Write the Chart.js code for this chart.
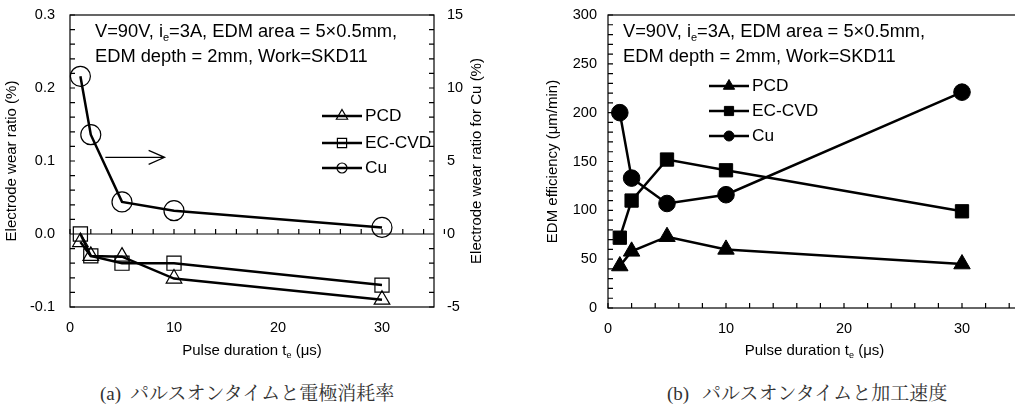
<!DOCTYPE html>
<html>
<head>
<meta charset="utf-8">
<script src="https://cdn.jsdelivr.net/npm/chart.js@4.4.0/dist/chart.umd.min.js"></script>
<style>
body { margin: 0; width: 1015px; height: 411px; overflow: hidden; background: #fff; position: relative; }
#boxA { position: absolute; left: 0; top: 0; }
#boxB { position: absolute; left: 505px; top: 0; }
.cap { position: absolute; top: 383px; font-size: 19px; line-height: 22px; white-space: nowrap;
       font-family: "Liberation Serif", "Noto Serif CJK JP", "Noto Sans CJK JP", serif; color: #333; }
</style>
</head>
<body>
<canvas id="boxA" width="500" height="375"></canvas>
<canvas id="boxB" width="520" height="375"></canvas>
<div class="cap" style="left:100px">(a)</div>
<div class="cap" style="left:130px">パルスオンタイムと電極消耗率</div>
<div class="cap" style="left:667px">(b)</div>
<div class="cap" style="left:702px">パルスオンタイムと加工速度</div>
<script>
// values
var pulse = [1, 2, 5, 10, 30];
var wearPCD = [-0.011, -0.03, -0.031, -0.061, -0.09];
var wearECCVD = [0.0, -0.03, -0.04, -0.04, -0.07];
var wearCu = [10.8, 6.8, 2.2, 1.6, 0.45];
var ratePCD = [43, 58, 73, 60, 45];
var rateECCVD = [72, 110, 152, 141, 99];
var rateCu = [200, 133, 107, 116, 221];
var seriesNames = ['PCD', 'EC-CVD', 'Cu'];
var seriesStyles = ['triangle', 'rect', 'circle'];
var legendRadius = [6.5, 6.5, 5];

var noteLine1 = [['V=90V, i'], ['e', 1], ['=3A, EDM area = 5×0.5mm,']];
var noteLine2 = [['EDM depth = 2mm, Work=SKD11']];
var xTitle = [['Pulse duration t'], ['e', 1], [' (μs)']];
var yTitleA = 'Electrode wear ratio (%)';
var y2TitleA = 'Electrode wear ratio for Cu (%)';
var yTitleB = 'EDM efficiency (μm/min)';

Chart.defaults.font.family = '"Liberation Sans", Arial, sans-serif';
Chart.defaults.color = '#000';

function pts(xs, ys) {
  return xs.map(function (x, i) { return {x: x, y: ys[i]}; });
}

function font(size) { return size + 'px "Liberation Sans", Arial'; }

// text with subscripts, parts = [[str, isSub]]
function drawParts(ctx, parts, x, y, size, align) {
  var w = 0;
  parts.forEach(function (p) {
    ctx.font = font(p[1] ? Math.round(size * 0.62) : size);
    p.w = ctx.measureText(p[0]).width;
    w += p.w;
  });
  var cx = align === 'center' ? x - w / 2 : x;
  ctx.textBaseline = 'middle';
  ctx.textAlign = 'left';
  parts.forEach(function (p) {
    ctx.font = font(p[1] ? Math.round(size * 0.62) : size);
    ctx.fillText(p[0], cx, p[1] ? y + size * 0.3 : y);
    cx += p.w;
  });
}

function vText(ctx, str, x, y, size) {
  ctx.save();
  ctx.translate(x, y);
  ctx.rotate(-Math.PI / 2);
  ctx.font = font(size);
  ctx.textAlign = 'center';
  ctx.textBaseline = 'middle';
  ctx.fillText(str, 0, 0);
  ctx.restore();
}

function tickRun(scale, step, fn) {
  var n = Math.round((scale.max - scale.min) / step);
  for (var i = 0; i <= n; i++) fn(scale.getPixelForValue(scale.min + i * step));
}

function tickLabels(ctx, scale, fn) {
  scale.ticks.forEach(function (t, i) {
    var lab = scale.options.ticks.callback.call(scale, t.value, i, scale.ticks);
    if (lab !== '') fn(String(lab), scale.getPixelForValue(t.value));
  });
}

// frame, inward ticks, tick labels, titles, note, legend
var decor = {
  id: 'decor',
  afterDraw: function (chart, args, o) {
    var ctx = chart.ctx, a = chart.chartArea, sx = chart.scales.x, sy = chart.scales.y, sy2 = chart.scales.y2;
    ctx.save();
    ctx.fillStyle = '#000';
    ctx.strokeStyle = '#000';
    ctx.lineWidth = 1.2;
    ctx.strokeRect(a.left, a.top, a.right - a.left, a.bottom - a.top);

    var xBase = o.xAt != null ? sy.getPixelForValue(o.xAt) : a.bottom;
    ctx.beginPath();
    if (o.xAt != null) { ctx.moveTo(a.left, xBase); ctx.lineTo(a.right, xBase); }
    tickRun(sx, o.xStep, function (p) { ctx.moveTo(p, xBase); ctx.lineTo(p, xBase - 5); });
    tickRun(sy, o.yStep, function (p) { ctx.moveTo(a.left, p); ctx.lineTo(a.left + 5, p); });
    if (sy2) tickRun(sy2, o.y2Step, function (p) { ctx.moveTo(a.right, p); ctx.lineTo(a.right - 5, p); });
    ctx.stroke();

    // tick labels
    ctx.font = font(14.5);
    ctx.textBaseline = 'middle';
    ctx.textAlign = 'center';
    tickLabels(ctx, sx, function (s, p) { ctx.fillText(s, p, a.bottom + 21); });
    ctx.textAlign = 'right';
    tickLabels(ctx, sy, function (s, p) { ctx.fillText(s, a.left - o.yGap, p); });
    if (sy2) {
      ctx.textAlign = 'left';
      tickLabels(ctx, sy2, function (s, p) { ctx.fillText(s, a.right + 13, p); });
    }

    // axis titles
    drawParts(ctx, xTitle, (a.left + a.right) / 2, 351, 15, 'center');
    vText(ctx, o.yTitle, o.yTitleX, (a.top + a.bottom) / 2, 15);
    if (o.y2Title) vText(ctx, o.y2Title, o.y2TitleX, (a.top + a.bottom) / 2, 15);

    // note
    drawParts(ctx, noteLine1, o.noteX, 32, 18.3, 'left');
    drawParts(ctx, noteLine2, o.noteX, 57, 18.3, 'left');

    // arrow pointing at the Cu axis
    if (o.arrow) {
      var ys = chart.scales[o.arrow.axis];
      var x0 = sx.getPixelForValue(o.arrow.x0), x1 = sx.getPixelForValue(o.arrow.x1);
      var ay = ys.getPixelForValue(o.arrow.y);
      ctx.lineWidth = 1.2;
      ctx.beginPath();
      ctx.moveTo(x0, ay); ctx.lineTo(x1, ay);
      ctx.moveTo(x1 - 16, ay - 7); ctx.lineTo(x1, ay); ctx.lineTo(x1 - 16, ay + 7);
      ctx.stroke();
    }

    // legend
    seriesNames.forEach(function (name, i) {
      var ly = o.legY[i];
      ctx.lineWidth = 2.5;
      ctx.beginPath();
      ctx.moveTo(o.legX, ly); ctx.lineTo(o.legX + 40, ly);
      ctx.stroke();
      ctx.lineWidth = o.filled ? 1 : 1.2;
      ctx.fillStyle = o.filled ? '#000' : 'rgba(0,0,0,0)';
      Chart.helpers.drawPoint(ctx, {pointStyle: seriesStyles[i], radius: legendRadius[i], rotation: 0,
        borderWidth: ctx.lineWidth}, o.legX + 20, ly);
      ctx.fillStyle = '#000';
      drawParts(ctx, [[name]], o.legX + 43, ly, 17.3, 'left');
    });
    ctx.restore();
  }
};

function lineSet(name, data, style, radius, filled, axis) {
  return {
    label: name,
    data: data,
    yAxisID: axis,
    borderColor: '#000',
    borderWidth: 2.5,
    pointStyle: style,
    pointRadius: radius,
    pointBorderWidth: filled ? 1 : 1.2,
    pointBorderColor: '#000',
    pointBackgroundColor: filled ? '#000' : 'rgba(0,0,0,0)',
    tension: 0,
    clip: false
  };
}

function axisBase(min, max, step, cb, fit) {
  return {
    type: 'linear', min: min, max: max,
    grid: {display: false, drawTicks: false},
    border: {display: false},
    ticks: {display: false, stepSize: step, callback: cb},
    afterFit: fit
  };
}

function xAxis(h) {
  return axisBase(0, 35, 10, function (v) { return v % 10 === 0 ? String(v) : ''; },
    function (s) { s.height = h; });
}

var yA = axisBase(-0.1, 0.3, 0.1, function (v) { return Math.abs(v) < 1e-9 ? '0.0' : v.toFixed(1); },
  function (s) { s.width = 70; });
yA.position = 'left';
var y2A = axisBase(-5, 15, 5, function (v) { return String(v); }, function (s) { s.width = 66; });
y2A.position = 'right';
var yB = axisBase(0, 300, 50, function (v) { return String(v); }, function (s) { s.width = 103; });
yB.position = 'left';

new Chart(document.getElementById('boxA'), {
  type: 'line',
  data: {
    datasets: [
      lineSet(seriesNames[0], pts(pulse, wearPCD), 'triangle', 9, false, 'y'),
      lineSet(seriesNames[1], pts(pulse, wearECCVD), 'rect', 10, false, 'y'),
      lineSet(seriesNames[2], pts(pulse, wearCu), 'circle', 10, false, 'y2')
    ]
  },
  options: {
    responsive: false,
    animation: false,
    layout: {autoPadding: false, padding: {top: 15, left: 0, right: 0, bottom: 0}},
    plugins: {
      legend: {display: false},
      tooltip: {enabled: false},
      decor: {
        xAt: 0, xStep: 2, yStep: 0.02, y2Step: 1, yGap: 15,
        yTitle: yTitleA, yTitleX: 12, y2Title: y2TitleA, y2TitleX: 477,
        noteX: 95,
        arrow: {axis: 'y', x0: 3.4, x1: 9.1, y: 0.105},
        legX: 322, legY: [116, 143, 168], filled: false
      }
    },
    scales: {x: xAxis(68), y: yA, y2: y2A}
  },
  plugins: [decor]
});

new Chart(document.getElementById('boxB'), {
  type: 'line',
  data: {
    datasets: [
      lineSet(seriesNames[0], pts(pulse, ratePCD), 'triangle', 9.5, true, 'y'),
      lineSet(seriesNames[1], pts(pulse, rateECCVD), 'rect', 9.4, true, 'y'),
      lineSet(seriesNames[2], pts(pulse, rateCu), 'circle', 8.3, true, 'y')
    ]
  },
  options: {
    responsive: false,
    animation: false,
    layout: {autoPadding: false, padding: {top: 15, left: 0, right: 4, bottom: 0}},
    plugins: {
      legend: {display: false},
      tooltip: {enabled: false},
      decor: {
        xStep: 2, yStep: 10, yGap: 11,
        yTitle: yTitleB, yTitleX: 48,
        noteX: 118,
        legX: 204, legY: [86, 111, 136], filled: true
      }
    },
    scales: {x: xAxis(67), y: yB}
  },
  plugins: [decor]
});
</script>
</body>
</html>
